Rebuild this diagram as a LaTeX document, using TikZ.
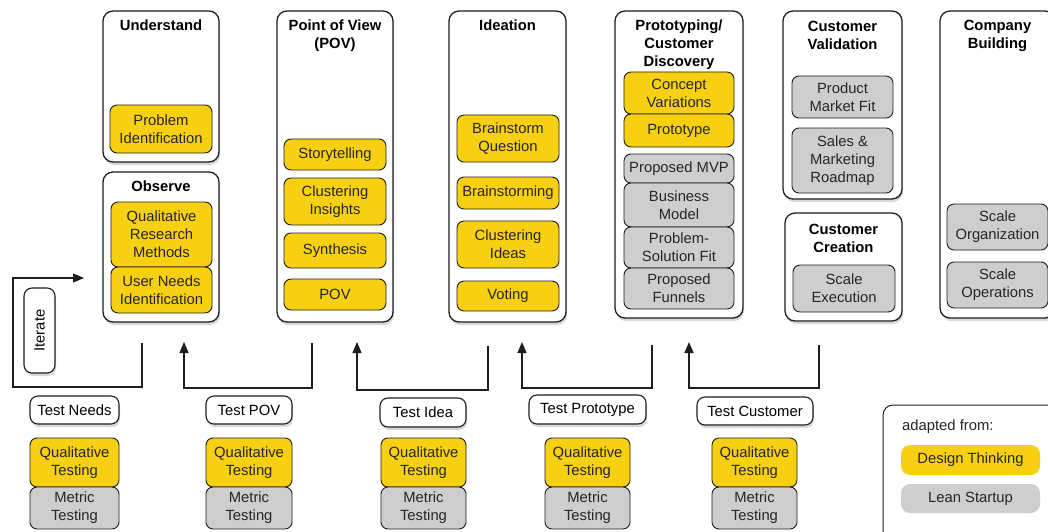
\documentclass[tikz,border=0pt]{standalone}
\usepackage{fontspec}
\setmainfont{Liberation Sans}
\usetikzlibrary{shadows,arrows.meta}
\definecolor{dtY}{RGB}{248,208,18}
\definecolor{lsG}{RGB}{206,206,206}
\definecolor{edge}{RGB}{30,30,30}
% box from corner (x1,y1) to (x2,y2): style, name, x1, y1, x2, y2, text
\newcommand\bx[7]{\node[#1, minimum width={#5-#3}, minimum height={#6-#4}] (#2) at ({(#3+#5)/2},{(#4+#6)/2}) {#7};}
\begin{document}
\begin{tikzpicture}[x=1pt,y=-1pt,
  font=\fontsize{14.8}{18}\selectfont,
  shad/.style={drop shadow={opacity=0.3,shadow xshift=1pt,shadow yshift=-3pt}},
  col/.style={draw=edge, line width=1.3pt, rounded corners=10pt, fill=white, shad, inner sep=0pt},
  ttl/.style={font=\fontsize{14.8}{18}\selectfont\bfseries, align=center, inner sep=0pt},
  dt/.style={draw=edge, line width=0.9pt, rounded corners=7pt, fill=dtY, align=center, inner sep=0pt, text=black!85},
  ls/.style={dt, fill=lsG},
  tst/.style={draw=edge, line width=1.1pt, rounded corners=8pt, fill=white, align=center, inner sep=0pt, shad},
  conn/.style={draw=edge, line width=1.2pt},
  arr/.style={conn, -{Triangle[length=11pt,width=9pt]}},
  leg/.style={rounded corners=9pt, align=center, inner sep=0pt, text=black!85},
  legbox/.style={draw=edge, line width=1pt, rounded corners=10pt, inner sep=0pt}
]
\useasboundingbox (0,0) rectangle (1048,532);
\clip (0,0) rectangle (1048,532);
\fill[white] (0,0) rectangle (1048,532);

% ---- column boxes
\bx{col}{cU}{103}{11}{219}{162}{}
\bx{col}{cO}{103}{172}{219}{322}{}
\bx{col}{cP}{277}{11}{393}{322}{}
\bx{col}{cI}{449}{11}{566}{322}{}
\bx{col}{cR}{615}{11}{743}{318}{}
\bx{col}{cV}{783}{11}{902}{199}{}
\bx{col}{cC}{785}{213}{902}{321}{}
\bx{col}{cB}{940}{11}{1055}{318}{}

% ---- titles
\node[ttl] (tU) at (161,25) {Understand};
\node[ttl] (tO) at (161,186) {Observe};
\node[ttl] (tP) at (335,35.5) {Point of View\\(POV)};
\node[ttl] (tI) at (507.5,25) {Ideation};
\node[ttl] (tR) at (679,44.5) {Prototyping/\\Customer\\Discovery};
\node[ttl] (tV) at (842.5,35) {Customer\\Validation};
\node[ttl] (tC) at (843.5,238) {Customer\\Creation};
\node[ttl] (tB) at (997.5,35.5) {Company\\Building};

% ---- inner boxes
\bx{dt}{u1}{110}{105}{212}{153}{Problem\\Identification}
\bx{dt}{o1}{111}{202}{212}{267}{Qualitative\\Research\\Methods}
\bx{dt}{o2}{111}{267}{212}{313}{User Needs\\Identification}

\bx{dt}{p1}{284}{139}{386}{170}{Storytelling}
\bx{dt}{p2}{284}{178}{386}{225}{Clustering\\Insights}
\bx{dt}{p3}{284}{233}{386}{268}{Synthesis}
\bx{dt}{p4}{284}{279}{386}{310}{POV}

\bx{dt}{i1}{457}{115}{559}{162}{Brainstorm\\Question}
\bx{dt}{i2}{457}{177}{559}{209}{Brainstorming}
\bx{dt}{i3}{457}{221}{559}{268}{Clustering\\Ideas}
\bx{dt}{i4}{457}{281}{559}{311}{Voting}

\bx{dt}{r1}{624}{72}{734}{114}{Concept\\Variations}
\bx{dt}{r2}{624}{114}{734}{147}{Prototype}
\bx{ls}{r3}{624}{154}{734}{183}{Proposed MVP}
\bx{ls}{r4}{624}{183}{734}{227}{Business\\Model}
\bx{ls}{r5}{624}{227}{734}{268}{Problem-\\Solution Fit}
\bx{ls}{r6}{624}{268}{734}{309}{Proposed\\Funnels}

\bx{ls}{v1}{792}{76}{893}{118}{Product\\Market Fit}
\bx{ls}{v2}{792}{128}{893}{193}{Sales \&\\Marketing\\Roadmap}
\bx{ls}{c1}{793}{265}{895}{312}{Scale\\Execution}

\bx{ls}{b1}{947}{204}{1048}{250}{Scale\\Organization}
\bx{ls}{b2}{947}{262}{1048}{308}{Scale\\Operations}

% ---- bottom row
\bx{tst}{t1}{30}{396}{119}{424}{Test Needs}
\bx{dt}{q1}{30}{438}{119}{487}{Qualitative\\Testing}
\bx{ls}{m1}{30}{487}{119}{529}{Metric\\Testing}

\bx{tst}{t2}{206}{396}{292}{424}{Test POV}
\bx{dt}{q2}{206}{438}{292}{487}{Qualitative\\Testing}
\bx{ls}{m2}{206}{487}{292}{529}{Metric\\Testing}

\bx{tst}{t3}{380}{398}{466}{427}{Test Idea}
\bx{dt}{q3}{381}{438}{466}{487}{Qualitative\\Testing}
\bx{ls}{m3}{381}{487}{466}{529}{Metric\\Testing}

\bx{tst}{t4}{529}{395}{646}{424}{Test Prototype}
\bx{dt}{q4}{545}{438}{630}{487}{Qualitative\\Testing}
\bx{ls}{m4}{545}{487}{630}{529}{Metric\\Testing}

\bx{tst}{t5}{697}{397}{813}{425}{Test Customer}
\bx{dt}{q5}{712}{438}{797}{487}{Qualitative\\Testing}
\bx{ls}{m5}{712}{487}{797}{529}{Metric\\Testing}

% ---- iterate
\node[tst, rotate=90, minimum width=85pt, minimum height=31pt] (it) at (39.5,330.5) {Iterate};

% ---- connectors
\coordinate (s1) at (142,343); \coordinate (k1) at (13,387); \coordinate (e1) at (84,278);
\coordinate (s2) at (312,343); \coordinate (k2) at (184,388); \coordinate (e2) at (184,342);
\coordinate (s3) at (488,346); \coordinate (k3) at (357,390); \coordinate (e3) at (357,342);
\coordinate (s4) at (652,345); \coordinate (k4) at (522,388); \coordinate (e4) at (522,342);
\coordinate (s5) at (819,345); \coordinate (k5) at (689,388); \coordinate (e5) at (689,342);
\draw[arr] (s1) |- (k1) |- (e1);
\draw[arr] (s2) |- (k2) -- (e2);
\draw[arr] (s3) |- (k3) -- (e3);
\draw[arr] (s4) |- (k4) -- (e4);
\draw[arr] (s5) |- (k5) -- (e5);

% ---- legend
\bx{legbox}{lg}{883}{405}{1062}{545}{}
\node[anchor=west, inner sep=0pt, text=black!85] (adp) at (902,427) {adapted from:};
\bx{leg, fill=dtY}{ldt}{901}{445}{1040}{475}{Design Thinking}
\bx{leg, fill=lsG}{lls}{901}{484}{1040}{513}{Lean Startup}
\end{tikzpicture}
\end{document}
